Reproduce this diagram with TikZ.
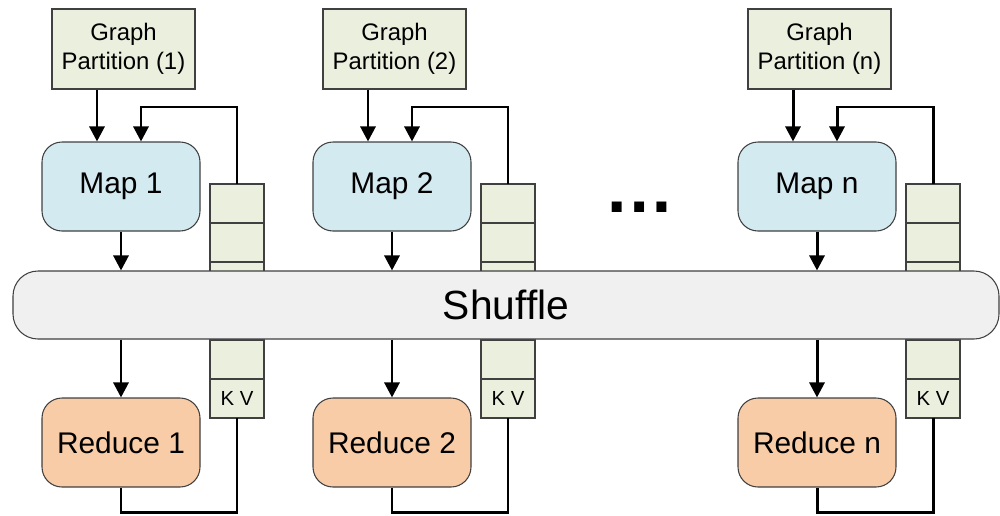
\documentclass[tikz,border=0pt]{standalone}
\usepackage{fontspec}
\setmainfont{Liberation Sans}
\usetikzlibrary{positioning,arrows.meta}
\definecolor{partGreen}{RGB}{235,239,222}
\definecolor{mapBlue}{RGB}{210,234,240}
\definecolor{reducePeach}{RGB}{249,204,168}
\definecolor{shuffleGray}{RGB}{240,240,240}
\definecolor{edgeGray}{RGB}{64,64,64}

\begin{document}
\begin{tikzpicture}[
    part/.style={draw=edgeGray,line width=0.6pt,fill=partGreen,minimum width=2.86cm,minimum height=1.6cm,align=center,font=\fontsize{13.6}{16.4}\selectfont},
    task/.style={draw=edgeGray,line width=0.6pt,rounded corners=0.4cm,minimum width=3.16cm,minimum height=1.78cm,font=\fontsize{17}{20}\selectfont},
    cell/.style={draw=edgeGray,line width=0.6pt,fill=partGreen,minimum width=1.08cm,minimum height=0.78cm,inner sep=0pt,outer sep=0pt,font=\fontsize{11.6}{14}\selectfont},
    arrow/.style={-{Triangle[width=0.3cm,length=0.3cm]},line width=1.7pt},
    wire/.style={line width=1.7pt}]
    \useasboundingbox (0,0) rectangle (20,-10.3);

    % Column 1
    \node[part] (part1) at (2.47,-0.98) {Graph\\Partition (1)};
    \node[task,fill=mapBlue] (map1) at (2.42,-3.73) {Map 1};
    \node[task,fill=reducePeach] (red1) at (2.42,-8.85) {Reduce 1};
    \node[cell] (st1a) at (4.74,-4.07) {};
    \node[cell,below=0pt of st1a] (st1b) {};
    \node[cell,below=0pt of st1b] (st1c) {};
    \node[cell,below=0pt of st1c] (st1d) {};
    \node[cell,below=0pt of st1d] (st1e) {};
    \node[cell,below=0pt of st1e] (st1f) {K V};

    % Column 2
    \node[part] (part2) at (7.89,-0.98) {Graph\\Partition (2)};
    \node[task,fill=mapBlue] (map2) at (7.84,-3.73) {Map 2};
    \node[task,fill=reducePeach] (red2) at (7.84,-8.85) {Reduce 2};
    \node[cell] (st2a) at (10.16,-4.07) {};
    \node[cell,below=0pt of st2a] (st2b) {};
    \node[cell,below=0pt of st2b] (st2c) {};
    \node[cell,below=0pt of st2c] (st2d) {};
    \node[cell,below=0pt of st2d] (st2e) {};
    \node[cell,below=0pt of st2e] (st2f) {K V};

    \node[font=\fontsize{40}{40}\selectfont\bfseries] (dots) at (12.8,-4.15) {…};

    % Column n
    \node[part] (partn) at (16.39,-0.98) {Graph\\Partition (n)};
    \node[task,fill=mapBlue] (mapn) at (16.34,-3.73) {Map n};
    \node[task,fill=reducePeach] (redn) at (16.34,-8.85) {Reduce n};
    \node[cell] (stna) at (18.66,-4.07) {};
    \node[cell,below=0pt of stna] (stnb) {};
    \node[cell,below=0pt of stnb] (stnc) {};
    \node[cell,below=0pt of stnc] (stnd) {};
    \node[cell,below=0pt of stnd] (stne) {};
    \node[cell,below=0pt of stne] (stnf) {K V};

    % Shuffle bar over the stacks
    \node[draw=edgeGray,line width=0.6pt,fill=shuffleGray,rounded corners=0.5cm,minimum width=19.72cm,minimum height=1.36cm,font=\fontsize{23.2}{28}\selectfont] (shuffle) at (10.12,-6.1) {Shuffle};

    % Arrows
    \draw[arrow] ([xshift=-0.48cm]map1.north |- part1.south) -- ([xshift=-0.48cm]map1.north);
    \draw[arrow] (st1a.north) -- ++(0,1.54) -| ([xshift=0.4cm]map1.north);
    \draw[arrow] (map1.south) -- (map1.south |- shuffle.north);
    \draw[arrow] (red1.north |- shuffle.south) -- (red1.north);
    \draw[wire] (red1.south) -- ++(0,-0.5) -| (st1f.south);

    \draw[arrow] ([xshift=-0.48cm]map2.north |- part2.south) -- ([xshift=-0.48cm]map2.north);
    \draw[arrow] (st2a.north) -- ++(0,1.54) -| ([xshift=0.4cm]map2.north);
    \draw[arrow] (map2.south) -- (map2.south |- shuffle.north);
    \draw[arrow] (red2.north |- shuffle.south) -- (red2.north);
    \draw[wire] (red2.south) -- ++(0,-0.5) -| (st2f.south);

    \draw[arrow] ([xshift=-0.48cm]mapn.north |- partn.south) -- ([xshift=-0.48cm]mapn.north);
    \draw[arrow] (stna.north) -- ++(0,1.54) -| ([xshift=0.4cm]mapn.north);
    \draw[arrow] (mapn.south) -- (mapn.south |- shuffle.north);
    \draw[arrow] (redn.north |- shuffle.south) -- (redn.north);
    \draw[wire] (redn.south) -- ++(0,-0.5) -| (stnf.south);
\end{tikzpicture}
\end{document}
